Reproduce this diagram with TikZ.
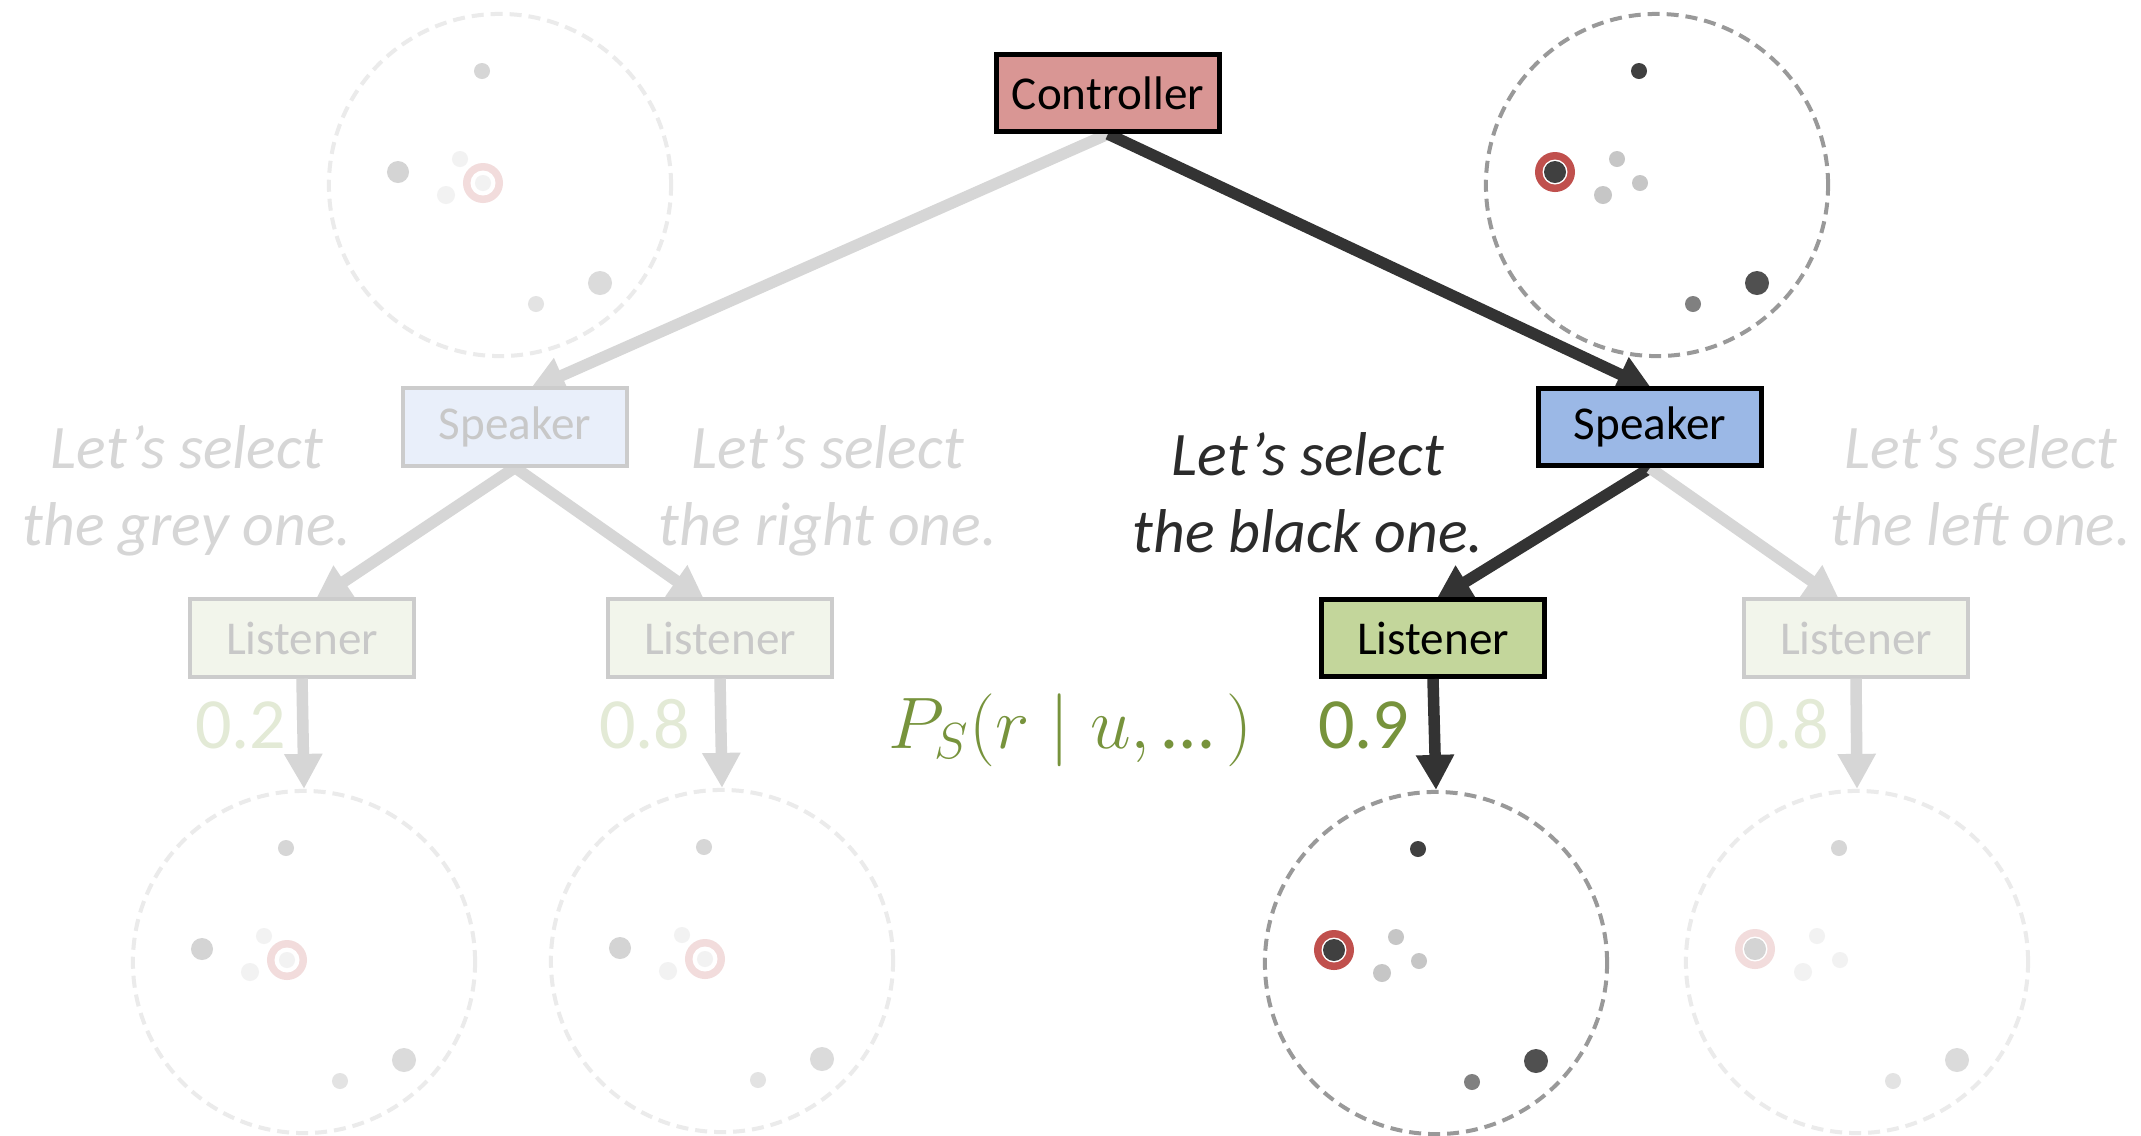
\documentclass[tikz,border=0pt]{standalone}
\usepackage{fontspec}
\setmainfont{Carlito}
\usetikzlibrary{arrows.meta,calc}

\definecolor{ctrlfill}{HTML}{D99694}
\definecolor{spkfill}{HTML}{9BB8E6}
\definecolor{lisfill}{HTML}{C3D69B}
\definecolor{spkfade}{HTML}{E9EFFA}
\definecolor{lisfade}{HTML}{F2F5EB}
\definecolor{edgefade}{HTML}{CCCCCC}
\definecolor{labelfade}{HTML}{C8C8C8}
\definecolor{arrdark}{HTML}{333333}
\definecolor{arrfade}{HTML}{D6D6D6}
\definecolor{olive}{HTML}{77933C}
\definecolor{olivefade}{HTML}{E3EAD6}
\definecolor{saydark}{HTML}{2B2B2B}
\definecolor{sayfade}{HTML}{D6D6D6}
\definecolor{rimdark}{HTML}{999999}
\definecolor{rimfade}{HTML}{EBEBEB}
\definecolor{dotdark}{HTML}{404040}
\definecolor{dotbig}{HTML}{505050}
\definecolor{dotmid}{HTML}{808080}
\definecolor{dotlight}{HTML}{C6C6C6}
\definecolor{ringred}{HTML}{C0504D}
\definecolor{fdotA}{HTML}{D6D6D6}
\definecolor{fdotB}{HTML}{D4D4D4}
\definecolor{fdotlight}{HTML}{F2F2F2}
\definecolor{fdotmid}{HTML}{E3E3E3}
\definecolor{fdotbig}{HTML}{DBDBDB}
\definecolor{ringfade}{HTML}{F2DCDC}

\pgfdeclarelayer{back}
\pgfsetlayers{back,main}

% seven points of a scene; #8 is the marked point, #9 its ring colour
\newcommand\boardpoints[9]{%
  \begin{scope}[shift={#1}]
    \fill[#9] #8 circle[radius=0.2cm];
    \fill[white] #8 circle[radius=0.125cm];
    \fill[#2] (-18,-114) circle[radius=0.08cm];
    \fill[#3] (-102,-13) circle[radius=0.11cm];
    \fill[#4] (-40,-26) circle[radius=0.08cm];
    \fill[#5] (-17,-2) circle[radius=0.08cm];
    \fill[#4] (-54,10) circle[radius=0.09cm];
    \fill[#6] (36,119) circle[radius=0.08cm];
    \fill[#7] (100,98) circle[radius=0.12cm];
  \end{scope}}

\tikzset{
  box/.style={draw, line width=0.05cm, minimum width=2.23cm, minimum height=0.77cm,
    inner sep=0pt, font=\fontsize{13.4}{16}\selectfont},
  boxfade/.style={box, draw=edgefade, line width=0.04cm, text=labelfade},
  board/.style={circle, draw=rimdark, line width=0.04cm,
    dash pattern=on 0.12cm off 0.07cm, minimum size=3.42cm, inner sep=0pt},
  boardfade/.style={board, draw=rimfade},
  say/.style={font=\fontsize{17.6}{21.9}\selectfont\itshape, align=center,
    anchor=base, inner sep=0pt},
  prob/.style={font=\fontsize{20.5}{24}\selectfont, anchor=base east, inner sep=0pt},
  link/.style={draw=arrdark, line width=0.115cm,
    -{Triangle[length=0.35cm,width=0.36cm]}},
  linkfade/.style={link, draw=arrfade},
}

\begin{document}
\begin{tikzpicture}[x=0.01cm, y=-0.01cm]
\useasboundingbox (0,0) rectangle (2141,1135);

% boxes
\node[box, fill=ctrlfill] (ctrl) at (1108,93) {Controller};
\node[boxfade, fill=spkfade] (spkL) at (515,427) {Speaker};
\node[box, fill=spkfill] (spkR) at (1650,427) {Speaker};
\node[boxfade, fill=lisfade] (lisLL) at (302,638) {Listener};
\node[boxfade, fill=lisfade] (lisLR) at (720,638) {Listener};
\node[box, fill=lisfill] (lisRL) at (1433,638) {Listener};
\node[boxfade, fill=lisfade] (lisRR) at (1856,638) {Listener};

% scenes
\node[boardfade] (bTL) at (500,185) {};
\node[board] (bTR) at (1657,185) {};
\node[boardfade] (bLL) at (304,962) {};
\node[boardfade] (bLR) at (722,961) {};
\node[board] (bRL) at (1436,963) {};
\node[boardfade] (bRR) at (1857,962) {};

\boardpoints{(500,185)}{fdotA}{fdotB}{fdotlight}{fdotlight}{fdotmid}{fdotbig}{(-17,-2)}{ringfade}
\boardpoints{(1657,185)}{dotdark}{dotdark}{dotlight}{dotlight}{dotmid}{dotbig}{(-102,-13)}{ringred}
\boardpoints{(304,962)}{fdotA}{fdotB}{fdotlight}{fdotlight}{fdotmid}{fdotbig}{(-17,-2)}{ringfade}
\boardpoints{(722,961)}{fdotA}{fdotB}{fdotlight}{fdotlight}{fdotmid}{fdotbig}{(-17,-2)}{ringfade}
\boardpoints{(1436,963)}{dotdark}{dotdark}{dotlight}{dotlight}{dotmid}{dotbig}{(-102,-13)}{ringred}
\boardpoints{(1857,962)}{fdotA}{fdotB}{fdotlight}{fdotlight}{fdotmid}{fdotbig}{(-102,-13)}{ringfade}

% connectors between the agents run under the boxes
\begin{pgfonlayer}{back}
\fill[white] (0,0) rectangle (2141,1135);
\draw[linkfade, shorten >=-0.08cm] (ctrl.south) -- ([xshift=0.22cm]spkL.north);
\draw[link, shorten >=-0.08cm] (ctrl.south) -- ([xshift=-0.05cm]spkR.north);
\draw[linkfade, shorten >=-0.06cm] (spkL.south) -- ([xshift=0.18cm]lisLL.north);
\draw[linkfade, shorten >=-0.06cm] (spkL.south) -- ([xshift=-0.20cm]lisLR.north);
\draw[link, shorten >=-0.06cm] (spkR.south) -- ([xshift=0.08cm]lisRL.north);
\draw[linkfade, shorten >=-0.06cm] (spkR.south) -- ([xshift=-0.21cm]lisRR.north);
\end{pgfonlayer}
\draw[linkfade] (lisLL.south) -- (bLL.north);
\draw[linkfade] (lisLR.south) -- (bLR.north);
\draw[link] (lisRL.south) -- (bRL.north);
\draw[linkfade] (lisRR.south) -- (bRR.north);

% utterances (anchored at the baseline of the second line)
\node[say, text=sayfade] (sayLL) at (187,545) {Let’s select\\the grey one.};
\node[say, text=sayfade] (sayLR) at (828,545) {Let’s select\\the right one.};
\node[say, text=saydark] (sayRL) at (1308,552) {Let’s select\\the black one.};
\node[say, text=sayfade] (sayRR) at (1981,545) {Let’s select\\the left one.};

% listener probabilities
\node[prob, text=olivefade] (pLL) at (287,748) {0.2};
\node[prob, text=olivefade] (pLR) at (691,748) {0.8};
\node[prob, text=olive] (pRL) at (1410,748) {0.9};
\node[prob, text=olivefade] (pRR) at (1830,748) {0.8};
\node[anchor=base, inner sep=0pt, text=olive, font=\fontsize{21}{25}\selectfont]
  (psr) at (1070,748) {$P_S(r\mid u,$\,…\,$)$};
\end{tikzpicture}
\end{document}
